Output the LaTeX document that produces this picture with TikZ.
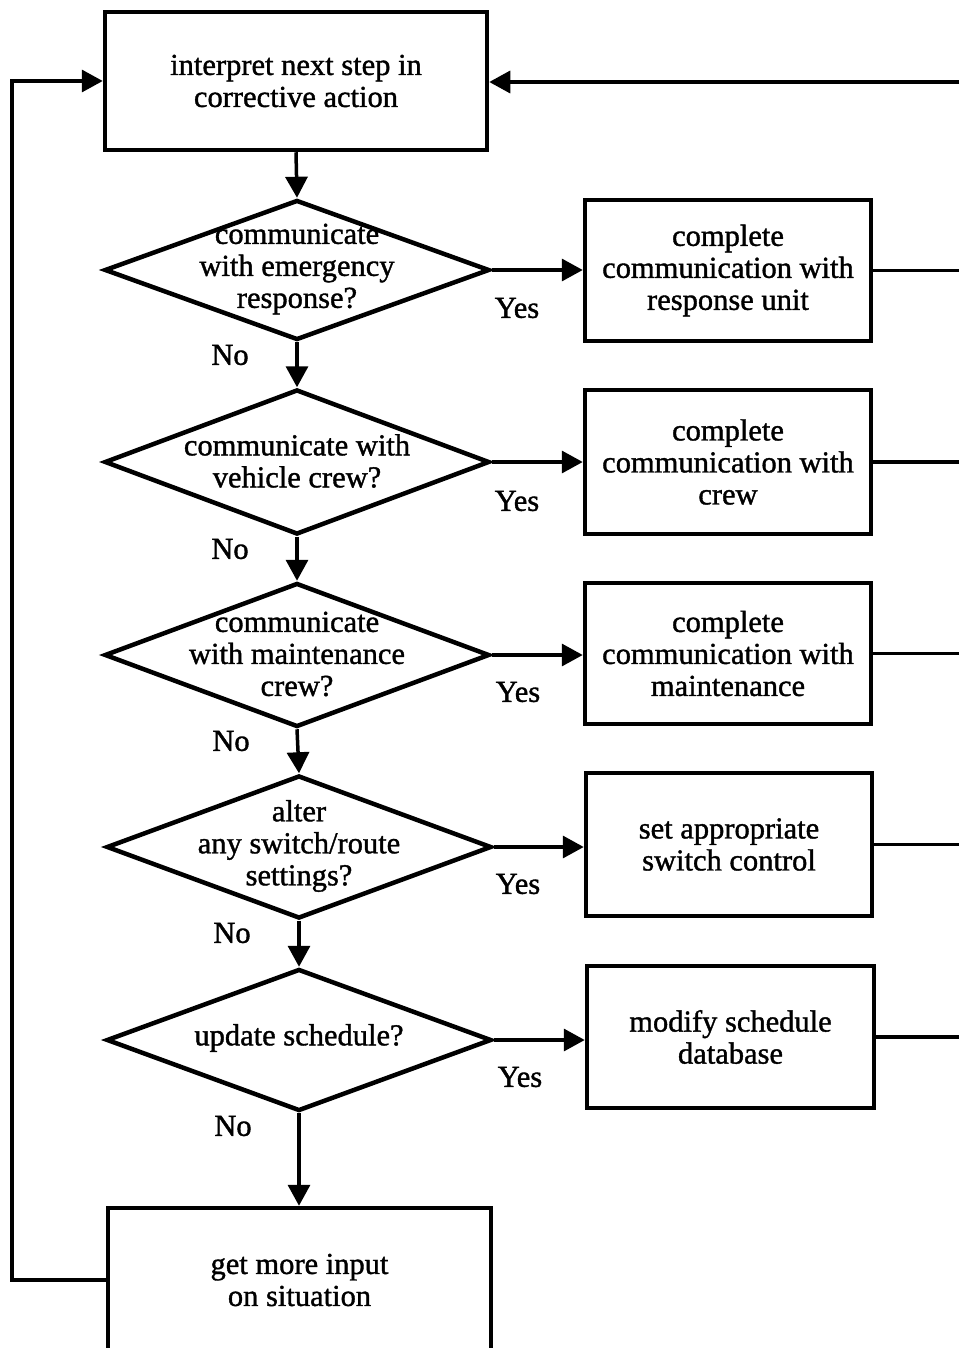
\documentclass[tikz,border=0pt]{standalone}
\usepackage{fontspec}
\setmainfont{Liberation Serif}
\newfontfamily\inkfont{Liberation Serif}[FakeBold=1.2]
\usetikzlibrary{shapes.geometric,arrows.meta}
\begin{document}
\begin{tikzpicture}[x=1pt,y=-1pt,
  txt/.style={font=\inkfont\fontsize{30.5}{32}\selectfont, align=center, inner sep=0pt},
  procbox/.style={draw, line width=4.5pt, rectangle, minimum width=#1, txt},
  decision/.style={draw, line width=4.5pt, diamond, minimum width=385pt, minimum height=#1, inner sep=0pt},
  conn/.style={line width=3.5pt},
  arr/.style={conn, -{Triangle[length=21pt,width=22pt]}},
  lbl/.style={font=\inkfont\fontsize{30.5}{32}\selectfont, inner sep=0pt}
]
\clip (0,0) rectangle (959,1348);
\fill[white] (0,0) rectangle (959,1348);

% top box
\node[procbox=382pt, minimum height=138pt] (top) at (296,81) {interpret next step in\\corrective action};

% decisions
\node[decision=140pt] (d1) at (297,270) {};
\node[txt] (t1) at (297,269) {communicate\\with emergency\\response?};
\node[decision=145pt] (d2) at (297,462) {};
\node[txt] (t2) at (297,461) {communicate with\\vehicle crew?};
\node[decision=144pt] (d3) at (297,655) {};
\node[txt] (t3) at (297,654) {communicate\\with maintenance\\crew?};
\node[decision=143pt] (d4) at (299,847) {};
\node[txt] (t4) at (299,846) {alter\\any switch/route\\settings?};
\node[decision=142pt] (d5) at (299,1040) {};
\node[txt] (t5) at (299,1038) {update schedule?};

% action boxes
\node[procbox=286pt, minimum height=141pt] (b1) at (728,270.5) {complete\\communication with\\response unit};
\node[procbox=286pt, minimum height=144pt] (b2) at (728,462) {complete\\communication with\\crew};
\node[procbox=286pt, minimum height=141pt] (b3) at (728,653.5) {complete\\communication with\\maintenance};
\node[procbox=286pt, minimum height=143pt] (b4) at (729,844.5) {set appropriate\\switch control};
\node[procbox=287pt, minimum height=142pt] (b5) at (730.5,1037) {modify schedule\\database};

% bottom box
\node[procbox=383pt, minimum height=144pt] (bot) at (299.5,1280) {get more input\\on situation};

% vertical flow
\draw[arr] (top.south) -- (d1.north);
\draw[arr] (d1.south) -- (d2.north);
\draw[arr] (d2.south) -- (d3.north);
\draw[arr] (d3.south) -- (d4.north);
\draw[arr] (d4.south) -- (d5.north);
\draw[arr] (d5.south) -- (d5.south |- bot.north);

% yes arrows
\draw[arr] (d1.east) -- (d1.east -| b1.west);
\draw[arr] (d2.east) -- (d2.east -| b2.west);
\draw[arr] (d3.east) -- (d3.east -| b3.west);
\draw[arr] (d4.east) -- (d4.east -| b4.west);
\draw[arr] (d5.east) -- (d5.east -| b5.west);

% right return lines
\coordinate (r0) at (959,82);
\coordinate (r1) at (959,270.5);
\coordinate (r2) at (959,462);
\coordinate (r3) at (959,653.5);
\coordinate (r4) at (959,844.5);
\coordinate (r5) at (959,1037);
\draw[conn] (b1.east) -- (r1);
\draw[conn] (b2.east) -- (r2);
\draw[conn] (b3.east) -- (r3);
\draw[conn] (b4.east) -- (r4);
\draw[conn] (b5.east) -- (r5);
\draw[arr] (r0) -- (r0 -| top.east);

% left loop
\coordinate (lc1) at (12,1280);
\coordinate (lc2) at (12,81);
\draw[arr] (bot.west) -- (lc1) -- (lc2) -- (top.west);

% labels
\node[lbl] (y1) at (517,308) {Yes};
\node[lbl] (y2) at (517,501) {Yes};
\node[lbl] (y3) at (518,692) {Yes};
\node[lbl] (y4) at (518,884) {Yes};
\node[lbl] (y5) at (520,1077) {Yes};
\node[lbl] (n1) at (230,355) {No};
\node[lbl] (n2) at (230,549) {No};
\node[lbl] (n3) at (231,741) {No};
\node[lbl] (n4) at (232,933) {No};
\node[lbl] (n5) at (233,1126) {No};
\end{tikzpicture}
\end{document}
